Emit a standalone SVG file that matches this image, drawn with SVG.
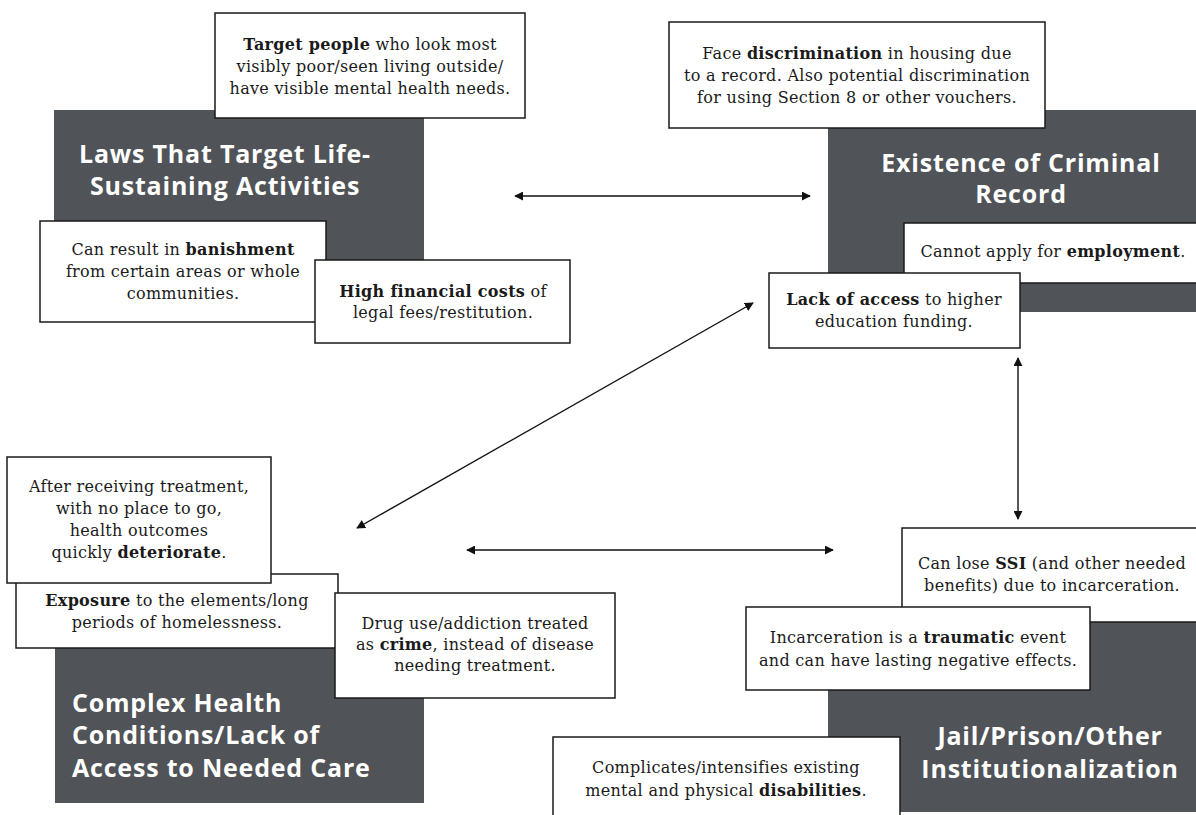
<svg xmlns="http://www.w3.org/2000/svg" width="1196" height="815" viewBox="0 0 1196 815">
<defs>
<style>
.dark{fill:#505357}
.box{fill:#fff;stroke:#1a1a1a;stroke-width:1.5}
.t{font-family:"DejaVu Serif","Liberation Serif",serif;font-size:16px;letter-spacing:0.3px;fill:#1a1a1a;text-anchor:middle}
.b{font-weight:bold}
.h{font-family:"Open Sans",Lato,sans-serif;font-weight:700;font-size:25px;letter-spacing:0.8px;fill:#fff}
.c{text-anchor:middle}
.conn line{stroke:#111;stroke-width:1.4;marker-start:url(#ah);marker-end:url(#ah)}
</style>
<marker id="ah" viewBox="0 0 10 10" refX="9" refY="5" markerWidth="9" markerHeight="9" markerUnits="userSpaceOnUse" orient="auto-start-reverse">
<path d="M0,0 L10,5 L0,10 z" fill="#111"/>
</marker>
</defs>
<rect width="1196" height="815" fill="#fff"/>

<g id="node-laws">
<rect class="dark" x="54" y="110" width="370" height="158"/>
<text class="h c" x="225" y="163">Laws That Target Life-</text>
<text class="h c" x="225" y="195">Sustaining Activities</text>
</g>
<g id="note-target">
<rect class="box" x="215" y="13" width="310" height="105"/>
<text class="t" x="370" y="50"><tspan class="b">Target people</tspan> who look most</text>
<text class="t" x="370" y="72">visibly poor/seen living outside/</text>
<text class="t" x="370" y="94">have visible mental health needs.</text>
</g>
<g id="note-banishment">
<rect class="box" x="40" y="221" width="286" height="101"/>
<text class="t" x="183" y="255">Can result in <tspan class="b">banishment</tspan></text>
<text class="t" x="183" y="277">from certain areas or whole</text>
<text class="t" x="183" y="299">communities.</text>
</g>
<g id="note-costs">
<rect class="box" x="315" y="260" width="255" height="83"/>
<text class="t" x="443" y="297"><tspan class="b">High financial costs</tspan> of</text>
<text class="t" x="443" y="318">legal fees/restitution.</text>
</g>

<g id="node-record">
<rect class="dark" x="828" y="110" width="370" height="202"/>
<text class="h c" x="1021" y="172">Existence of Criminal</text>
<text class="h c" x="1021" y="203">Record</text>
</g>
<g id="note-discrimination">
<rect class="box" x="669" y="22" width="376" height="106"/>
<text class="t" x="857" y="59">Face <tspan class="b">discrimination</tspan> in housing due</text>
<text class="t" x="857" y="81">to a record. Also potential discrimination</text>
<text class="t" x="857" y="103">for using Section 8 or other vouchers.</text>
</g>
<g id="note-employment">
<rect class="box" x="904" y="223" width="300" height="60"/>
<text class="t" x="1053" y="257">Cannot apply for <tspan class="b">employment</tspan>.</text>
</g>
<g id="note-education">
<rect class="box" x="769" y="273" width="251" height="75"/>
<text class="t" x="894" y="305"><tspan class="b">Lack of access</tspan> to higher</text>
<text class="t" x="894" y="327">education funding.</text>
</g>

<g id="node-health">
<rect class="dark" x="55" y="648" width="369" height="155"/>
<text class="h" x="72" y="712">Complex Health</text>
<text class="h" x="72" y="744">Conditions/Lack of</text>
<text class="h" x="72" y="777">Access to Needed Care</text>
</g>
<g id="note-exposure">
<rect class="box" x="16" y="574" width="322" height="74"/>
<text class="t" x="177" y="606"><tspan class="b">Exposure</tspan> to the elements/long</text>
<text class="t" x="177" y="628">periods of homelessness.</text>
</g>
<g id="note-treatment">
<rect class="box" x="7" y="457" width="264" height="126"/>
<text class="t" x="139" y="492">After receiving treatment,</text>
<text class="t" x="139" y="514">with no place to go,</text>
<text class="t" x="139" y="536">health outcomes</text>
<text class="t" x="139" y="558">quickly <tspan class="b">deteriorate</tspan>.</text>
</g>
<g id="note-crime">
<rect class="box" x="335" y="593" width="280" height="105"/>
<text class="t" x="475" y="629">Drug use/addiction treated</text>
<text class="t" x="475" y="650">as <tspan class="b">crime</tspan>, instead of disease</text>
<text class="t" x="475" y="671">needing treatment.</text>
</g>

<g id="node-jail">
<rect class="dark" x="828" y="622" width="370" height="190"/>
<text class="h c" x="1050" y="745">Jail/Prison/Other</text>
<text class="h c" x="1050" y="778">Institutionalization</text>
</g>
<g id="note-ssi">
<rect class="box" x="902" y="528" width="300" height="94"/>
<text class="t" x="1052" y="569">Can lose <tspan class="b">SSI</tspan> (and other needed</text>
<text class="t" x="1052" y="591">benefits) due to incarceration.</text>
</g>
<g id="note-trauma">
<rect class="box" x="746" y="607" width="344" height="83"/>
<text class="t" x="918" y="643">Incarceration is a <tspan class="b">traumatic</tspan> event</text>
<text class="t" x="918" y="666">and can have lasting negative effects.</text>
</g>
<g id="note-disabilities">
<rect class="box" x="553" y="737" width="347" height="90"/>
<text class="t" x="726" y="773">Complicates/intensifies existing</text>
<text class="t" x="726" y="796">mental and physical <tspan class="b">disabilities</tspan>.</text>
</g>

<g id="connectors" class="conn">
<line x1="515" y1="196" x2="810" y2="196"/>
<line x1="753" y1="303" x2="357" y2="528"/>
<line x1="467" y1="550" x2="833" y2="550"/>
<line x1="1018" y1="358" x2="1018" y2="519"/>
</g>
</svg>
